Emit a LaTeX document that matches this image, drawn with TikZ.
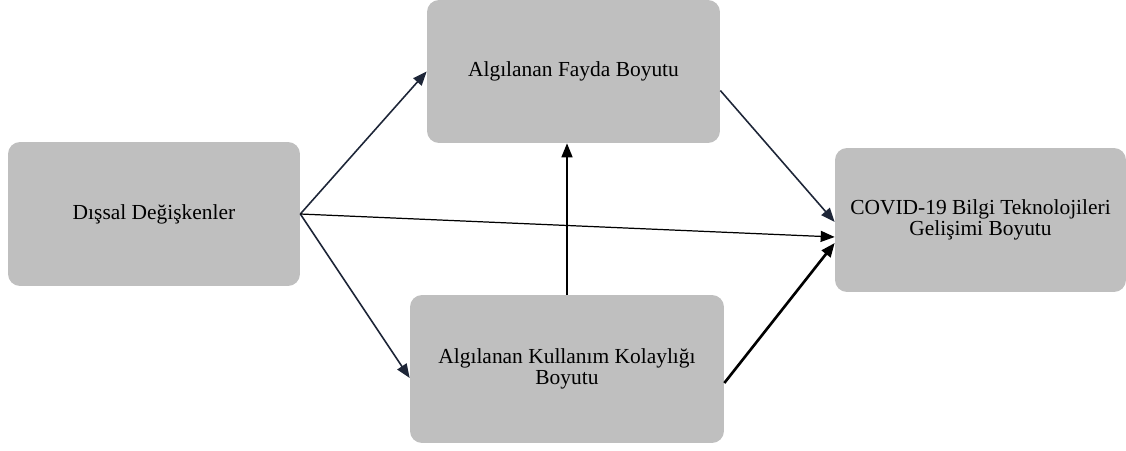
\documentclass[tikz,border=0pt]{standalone}
\usepackage{fontspec}
\setmainfont{Liberation Serif}
\usetikzlibrary{calc,arrows.meta}
\definecolor{boxgray}{HTML}{BFBFBF}
\definecolor{linenavy}{HTML}{1E2638}
\tikzset{
  kutu/.style={
    fill=boxgray, rounded corners=0.24cm, align=center,
    font=\fontsize{12.2}{11.6}\selectfont, inner sep=0pt
  },
  ok/.style={
    draw=linenavy, line width=0.9pt,
    -{Triangle[length=0.28cm,width=0.22cm]}
  }
}
\begin{document}
\begin{tikzpicture}[x=0.02cm,y=-0.02cm]
  \useasboundingbox (0,0) rectangle (1126,450);

  % Boxes
  \node[kutu, minimum width=5.84cm, minimum height=2.88cm] (dis) at (154,214) {Dışsal Değişkenler};
  \node[kutu, minimum width=5.86cm, minimum height=2.86cm] (fayda) at (573.5,71.5) {Algılanan Fayda Boyutu};
  \node[kutu, minimum width=5.82cm, minimum height=2.88cm] (covid) at (980.5,220) {COVID-19 Bilgi Teknolojileri\\Gelişimi Boyutu};
  \node[kutu, minimum width=6.28cm, minimum height=2.96cm] (kolay) at (567,369) {Algılanan Kullanım Kolaylığı\\Boyutu};

  % Arrows
  \draw[ok] (dis.east) -- (fayda.west);
  \draw[ok] (dis.east) -- ([yshift=-0.18cm]kolay.west);
  \draw[ok, line width=0.7pt, draw=black] (dis.east) -- ([yshift=-0.34cm]covid.west);
  \draw[ok] ([yshift=-0.38cm]fayda.east) -- ([yshift=-0.04cm]covid.west);
  \draw[ok, draw=black] (kolay.north) -- (kolay.north |- fayda.south);
  \draw[ok, draw=black, line width=1.5pt] ([yshift=-0.28cm]kolay.east) -- ([yshift=-0.46cm]covid.west);
\end{tikzpicture}
\end{document}
